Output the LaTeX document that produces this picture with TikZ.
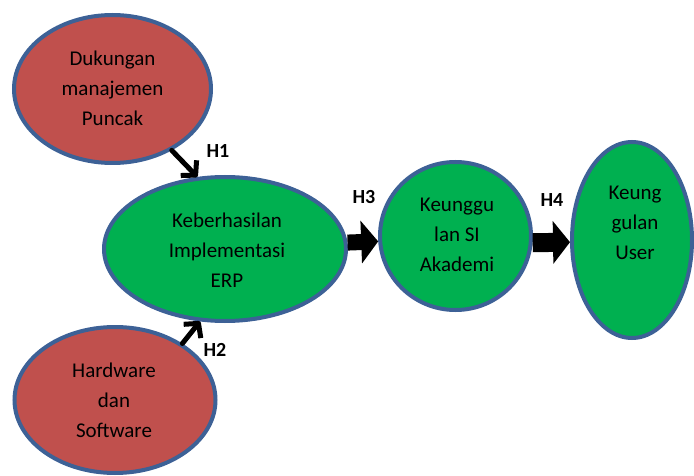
\documentclass[tikz,border=0pt]{standalone}
\usepackage{fontspec}
\setmainfont{Carlito}
\usetikzlibrary{arrows.meta,shapes.geometric}
\definecolor{bordblue}{HTML}{3D6196}
\definecolor{redfill}{HTML}{C0504D}
\definecolor{greenfill}{HTML}{00B050}
\begin{document}
\begin{tikzpicture}[x=1pt,y=-1pt,
  ell/.style={ellipse, draw=bordblue, line width=4pt, inner sep=0pt},
  redell/.style={ell, fill=redfill},
  greenell/.style={ell, fill=greenfill},
  lbl/.style={font=\fontsize{21}{30}\selectfont, align=center, text=black, inner sep=0pt},
  hyp/.style={font=\fontsize{20}{22}\selectfont\bfseries, text=black, inner sep=0pt},
  linearrow/.style={line width=5pt, line cap=round, line join=round, -{Straight Barb[length=10pt,width=22pt,line join=round]}},
  blockarrow/.style={line width=#1, -{Triangle[length=17pt,width=42pt]}}
]
\useasboundingbox (0,0) rectangle (694,476);
\node[redell, minimum width=197pt, minimum height=148pt] (e1) at (112.5,89) {};
\node[greenell, minimum width=242pt, minimum height=144pt] (e2) at (225,249) {};
\node[redell, minimum width=201pt, minimum height=146pt] (e3) at (115,400) {};
\node[greenell, minimum width=151pt, minimum height=148pt] (e4) at (455.5,236) {};
\node[greenell, minimum width=120pt, minimum height=196pt] (e5) at (632,240) {};

\node[lbl] (t1) at (112.5,88) {Dukungan\\manajemen\\Puncak};
\node[lbl] (t2) at (227,250) {Keberhasilan\\Implementasi\\ERP};
\node[lbl] (t3) at (114,400) {Hardware\\dan\\Software};
\node[lbl] (t4) at (457,235) {Keunggu\\lan SI\\Akademi};
\node[lbl] (t5) at (635,223) {Keung\\gulan\\User};

\draw[linearrow] (e1.-46) -- (e2.111);
\draw[linearrow] (e3.40) -- (e2.251);
\draw[blockarrow=16pt] (e2.3) -- (e4.184);
\draw[blockarrow=19pt] (e4.-5) -- (e5.182);

\node[hyp] (h1) at (218,151) {H1};
\node[hyp] (h2) at (215,350) {H2};
\node[hyp] (h3) at (364,197) {H3};
\node[hyp] (h4) at (552,200) {H4};
\end{tikzpicture}
\end{document}
